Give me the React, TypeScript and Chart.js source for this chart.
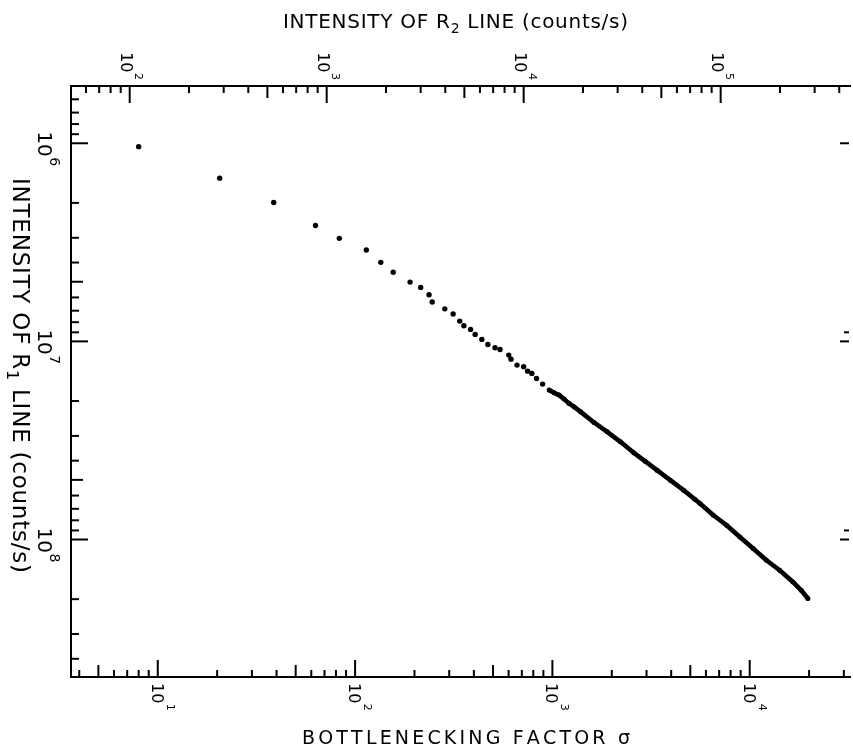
import React, { useEffect, useRef } from "react";
import { Chart, registerables } from "chart.js";

Chart.register(...registerables);

// ---- Data (σ on bottom axis, R1 intensity on left axis) ----
const sigmaSparse = [8.0, 20.6, 38.7, 63.0, 83.2, 114, 135, 156, 190, 215, 237, 246, 285, 314, 339, 356, 385, 406, 439, 471, 512, 543, 601, 617, 662, 715, 749, 787, 831, 892];
const r1Sparse = [1.04e6, 1.5e6, 1.99e6, 2.6e6, 3.02e6, 3.46e6, 3.99e6, 4.48e6, 5.02e6, 5.34e6, 5.82e6, 6.33e6, 6.85e6, 7.28e6, 7.9e6, 8.34e6, 8.7e6, 9.22e6, 9.77e6, 1.036e7, 1.077e7, 1.098e7, 1.173e7, 1.229e7, 1.317e7, 1.344e7, 1.413e7, 1.451e7, 1.538e7, 1.643e7];

const sigmaDense = [964, 1021, 1082, 1147, 1215, 1288, 1391, 1625, 1896, 2213, 2585, 2948, 3388, 3955, 4619, 5267, 5602, 6545, 7637, 8913, 10413, 12150, 14180, 16567, 18245, 19720];
const r1Dense = [1.762e7, 1.818e7, 1.867e7, 1.956e7, 2.057e7, 2.14e7, 2.268e7, 2.566e7, 2.861e7, 3.214e7, 3.652e7, 4.022e7, 4.467e7, 5.017e7, 5.636e7, 6.259e7, 6.579e7, 7.54e7, 8.47e7, 9.703e7, 1.11e8, 1.272e8, 1.43e8, 1.638e8, 1.804e8, 1.986e8];

// ---- Axis ranges and labels ----
const X_MIN = 3.633;
const X_MAX = 31860;
const X2_MIN = 50.35;
const X2_MAX = 448300;
const Y_MIN = 5.14e5;
const Y_MAX = 4.943e8;

const bottomLabelExponents = [1, 2, 3, 4];
const topLabelExponents = [2, 3, 4, 5];
const leftLabelExponents = [6, 7, 8];
const rightTickValues = [1e6, 9e6, 1e7, 9e7, 1e8];

const bottomTitle = "BOTTLENECKING FACTOR σ";
const r2TitleParts = ["INTENSITY OF R", "2", " LINE (counts/s)"];
const r1TitleParts = ["INTENSITY OF R", "1", " LINE (counts/s)"];

const FONT = '"DejaVu Sans", "Liberation Sans", sans-serif';

function logTicks(min: number, max: number) {
  const out: { v: number; m: number }[] = [];
  const d0 = Math.floor(Math.log10(min));
  const d1 = Math.ceil(Math.log10(max));
  for (let d = d0; d <= d1; d++) {
    for (let m = 1; m <= 9; m++) {
      const v = m * Math.pow(10, d);
      if (v >= min && v <= max) out.push({ v, m });
    }
  }
  return out;
}

const tickLen = (m: number) => (m === 1 ? 17 : m === 5 ? 12 : 7);

type Seg = { t: string; s: number; dy: number };

function drawSpacedText(
  ctx: CanvasRenderingContext2D,
  segs: Seg[],
  x0: number,
  y0: number,
  target: number,
  angle: number
) {
  ctx.save();
  ctx.translate(x0, y0);
  ctx.rotate(angle);
  ctx.textAlign = "left";
  ctx.textBaseline = "alphabetic";
  const chars: { ch: string; s: number; dy: number }[] = [];
  segs.forEach((sg) => {
    for (const ch of sg.t) chars.push({ ch, s: sg.s, dy: sg.dy });
  });
  const widths = chars.map((c) => {
    ctx.font = `${c.s}px ${FONT}`;
    return ctx.measureText(c.ch).width;
  });
  const natural = widths.reduce((a, b) => a + b, 0);
  const gap = (target - natural) / (chars.length - 1);
  let x = 0;
  chars.forEach((c, i) => {
    ctx.font = `${c.s}px ${FONT}`;
    ctx.fillText(c.ch, x, c.dy);
    x += widths[i] + gap;
  });
  ctx.restore();
}

function drawPower(
  ctx: CanvasRenderingContext2D,
  ax: number,
  ay: number,
  exp: number,
  mainSize: number,
  supSize: number,
  vMain: number,
  vSup: number
) {
  ctx.save();
  ctx.translate(ax, ay);
  ctx.rotate(Math.PI / 2);
  ctx.textAlign = "left";
  ctx.textBaseline = "alphabetic";
  ctx.font = `${mainSize}px ${FONT}`;
  ctx.fillText("10", 0, vMain);
  const w = ctx.measureText("10").width;
  ctx.font = `${supSize}px ${FONT}`;
  ctx.fillText(String(exp), w + 0.5, vSup);
  ctx.restore();
}

function powerLength(ctx: CanvasRenderingContext2D, exp: number, mainSize: number, supSize: number) {
  ctx.font = `${mainSize}px ${FONT}`;
  const w = ctx.measureText("10").width;
  ctx.font = `${supSize}px ${FONT}`;
  return w + 0.5 + ctx.measureText(String(exp)).width;
}

const axesPlugin = {
  id: "paperAxes",
  afterDraw(chart: any) {
    const ctx: CanvasRenderingContext2D = chart.ctx;
    const { left, right, top, bottom } = chart.chartArea;
    const sx = chart.scales.x;
    const sx2 = chart.scales.x2;
    const sy = chart.scales.y;
    ctx.save();
    ctx.strokeStyle = "#000";
    ctx.fillStyle = "#000";
    ctx.lineWidth = 2;
    ctx.lineCap = "butt";

    // frame
    ctx.beginPath();
    ctx.moveTo(right + 2, top);
    ctx.lineTo(left, top);
    ctx.lineTo(left, bottom);
    ctx.lineTo(right + 2, bottom);
    ctx.stroke();

    // bottom ticks (inward)
    logTicks(X_MIN, X_MAX).forEach(({ v, m }) => {
      const px = sx.getPixelForValue(v);
      if (px <= left + 2 || px >= right - 1) return;
      ctx.beginPath();
      ctx.moveTo(px, bottom);
      ctx.lineTo(px, bottom - tickLen(m));
      ctx.stroke();
    });
    // top ticks
    logTicks(X2_MIN, X2_MAX).forEach(({ v, m }) => {
      const px = sx2.getPixelForValue(v);
      if (px <= left + 2 || px >= right - 1) return;
      ctx.beginPath();
      ctx.moveTo(px, top);
      ctx.lineTo(px, top + tickLen(m));
      ctx.stroke();
    });
    // left ticks
    logTicks(Y_MIN, Y_MAX).forEach(({ v, m }) => {
      const py = sy.getPixelForValue(v);
      if (py <= top + 2 || py >= bottom - 2) return;
      ctx.beginPath();
      ctx.moveTo(left, py);
      ctx.lineTo(left + (m === 1 ? 17 : m === 5 ? 12 : 8), py);
      ctx.stroke();
    });
    // right ticks
    rightTickValues.forEach((v) => {
      const py = sy.getPixelForValue(v);
      const isMajor = Math.abs(Math.log10(v) - Math.round(Math.log10(v))) < 1e-6;
      ctx.beginPath();
      ctx.moveTo(right, py);
      ctx.lineTo(right - (isMajor ? 9 : 5), py);
      ctx.stroke();
    });

    // bottom labels
    bottomLabelExponents.forEach((e) => {
      const px = sx.getPixelForValue(Math.pow(10, e));
      drawPower(ctx, px, 683, e, 16, 11, 6, -9);
    });
    // top labels
    topLabelExponents.forEach((e) => {
      const px = sx2.getPixelForValue(Math.pow(10, e));
      const len = powerLength(ctx, e, 16, 11);
      drawPower(ctx, px - 3, top - 6 - len, e, 16, 11, 6, -8);
    });
    // left labels
    leftLabelExponents.forEach((e) => {
      const py = sy.getPixelForValue(Math.pow(10, e));
      drawPower(ctx, 45, py - 12, e, 20, 14, 7, -5);
    });

    // titles
    drawSpacedText(
      ctx,
      [
        { t: r2TitleParts[0], s: 20, dy: 0 },
        { t: r2TitleParts[1], s: 14, dy: 5 },
        { t: r2TitleParts[2], s: 20, dy: 0 },
      ],
      283,
      28,
      345,
      0
    );
    drawSpacedText(ctx, [{ t: bottomTitle, s: 19, dy: 0 }], 302, 744, 328, 0);
    drawSpacedText(
      ctx,
      [
        { t: r1TitleParts[0], s: 23, dy: 0 },
        { t: r1TitleParts[1], s: 16, dy: 6 },
        { t: r1TitleParts[2], s: 23, dy: 0 },
      ],
      13,
      178,
      395,
      Math.PI / 2
    );
    ctx.restore();
  },
};

export default function App() {
  const canvasRef = useRef<HTMLCanvasElement | null>(null);

  useEffect(() => {
    if (!canvasRef.current) return;
    const sparse = sigmaSparse.map((s, i) => ({ x: s, y: r1Sparse[i] }));
    const dense = sigmaDense.map((s, i) => ({ x: s, y: r1Dense[i] }));
    const chart = new Chart(canvasRef.current, {
      type: "scatter",
      data: {
        datasets: [
          {
            data: sparse,
            pointRadius: 2.7,
            pointBorderWidth: 0,
            backgroundColor: "#000",
            borderColor: "#000",
            showLine: false,
            xAxisID: "x",
            yAxisID: "y",
          },
          {
            data: dense,
            showLine: true,
            borderColor: "#000",
            backgroundColor: "#000",
            borderWidth: 4.6,
            borderCapStyle: "round",
            borderJoinStyle: "round",
            pointRadius: 2.5,
            pointBorderWidth: 0,
            tension: 0,
            xAxisID: "x",
            yAxisID: "y",
          },
        ],
      },
      options: {
        animation: false,
        responsive: false,
        events: [],
        layout: { padding: { left: 71, top: 86, right: 0, bottom: 74 } },
        plugins: {
          legend: { display: false },
          tooltip: { enabled: false },
          title: { display: false },
        },
        scales: {
          x: { type: "logarithmic", position: "bottom", min: X_MIN, max: X_MAX, display: false },
          x2: { type: "logarithmic", position: "top", min: X2_MIN, max: X2_MAX, display: false },
          y: { type: "logarithmic", position: "left", reverse: true, min: Y_MIN, max: Y_MAX, display: false },
        },
      } as any,
      plugins: [axesPlugin],
    });
    return () => chart.destroy();
  }, []);

  return (
    <div style={{ position: "absolute", left: 0, top: 0, width: 853, height: 751, background: "#fff" }}>
      <canvas ref={canvasRef} width={853} height={751} style={{ display: "block" }} />
    </div>
  );
}
